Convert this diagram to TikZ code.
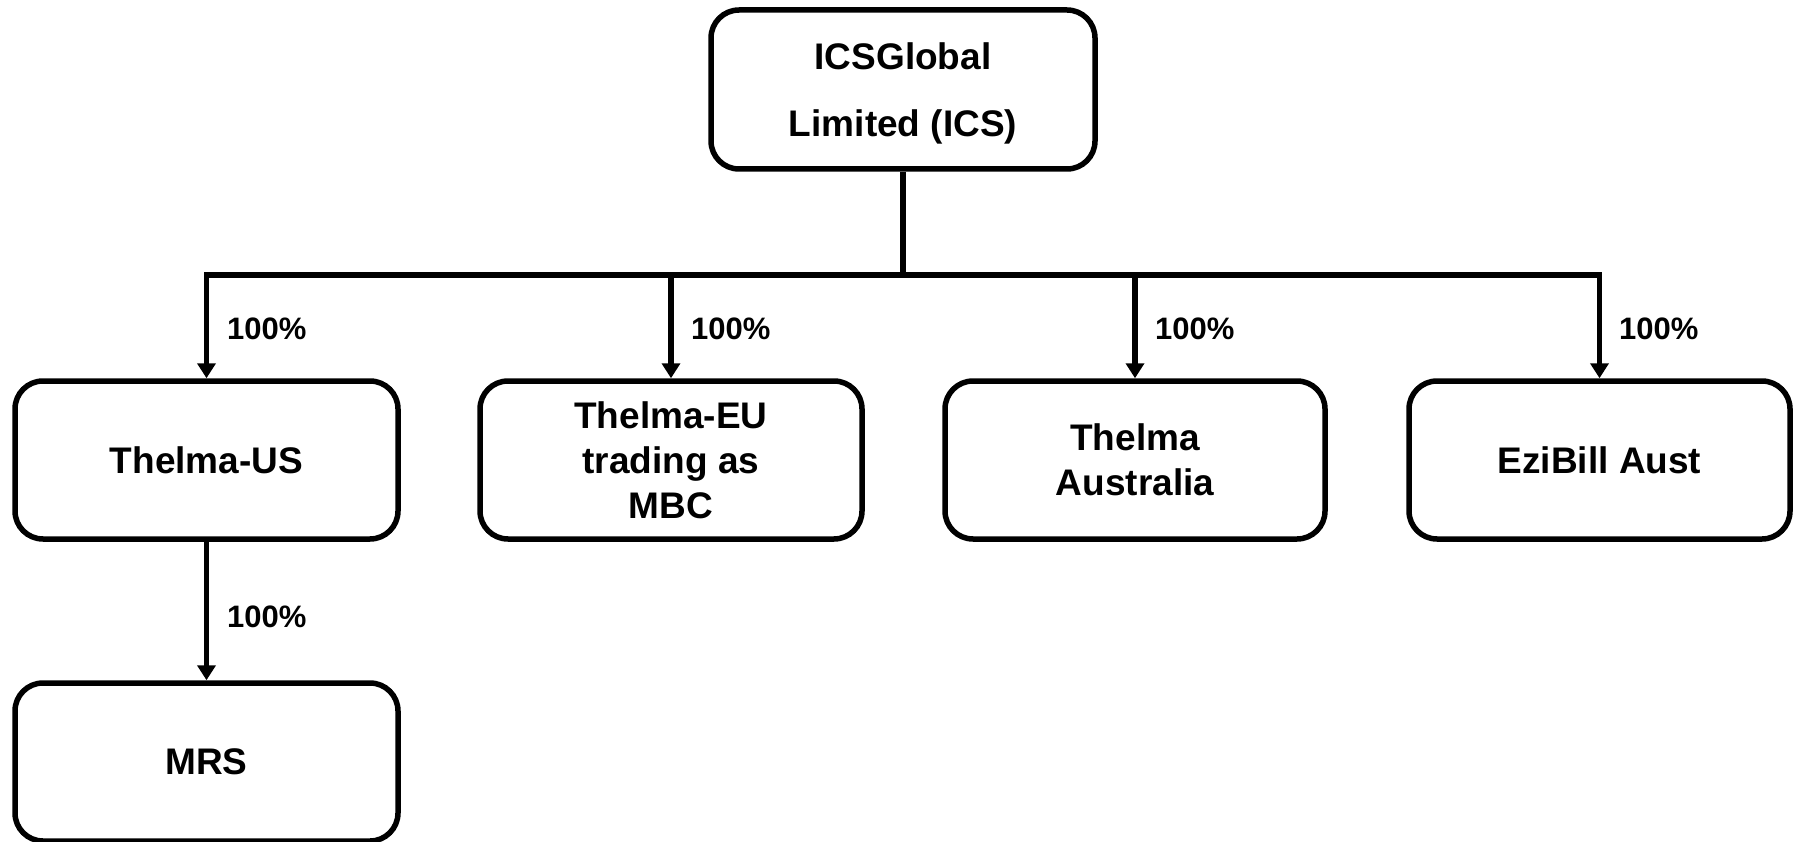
\documentclass[tikz,border=0pt]{standalone}
\usepackage{fontspec}
\setmainfont{Liberation Sans}
\usetikzlibrary{arrows.meta}
\begin{document}
\begin{tikzpicture}[x=1pt,y=-1pt,
  orgbox/.style={draw=black, line width=5.5pt, rounded corners=28pt, fill=white,
    minimum height=158pt, inner sep=2pt, align=center,
    font=\fontsize{37}{45}\selectfont\bfseries},
  conn/.style={draw=black, line width=5.5pt},
  arr/.style={conn, -{Triangle[width=18pt,length=15pt]}},
  pct/.style={anchor=base west, inner sep=0pt, font=\fontsize{31}{36}\selectfont\bfseries}
]
\useasboundingbox (0,0) rectangle (1796,842);
\node[orgbox, minimum width=384pt, minimum height=159pt,
  font=\fontsize{37}{67}\selectfont\bfseries] (top) at (903,89.5) {ICSGlobal\\Limited \smash{(ICS)}};
\node[orgbox, minimum width=383pt] (US) at (206.5,460) {Thelma-US};
\node[orgbox, minimum width=382pt] (EU) at (671,460) {Thelma-EU\\trading as\\MBC};
\node[orgbox, minimum width=380pt] (AU) at (1135,460) {Thelma\\Australia};
\node[orgbox, minimum width=381pt] (EZ) at (1599.5,460) {EziBill Aust};
\node[orgbox, minimum width=383pt] (MRS) at (206.5,762) {MRS};
\coordinate (bar) at (903,275);
\draw[conn] (top.south) -- (bar);
\draw[arr] (bar) -| (US.north);
\draw[arr] (bar) -| (EZ.north);
\draw[arr] (bar -| EU.north) -- (EU.north);
\draw[arr] (bar -| AU.north) -- (AU.north);
\draw[arr] (US.south) -- (MRS.north);
\node[pct] (lUS) at (227,339) {100\%};
\node[pct] (lEU) at (691,339) {100\%};
\node[pct] (lAU) at (1155,339) {100\%};
\node[pct] (lEZ) at (1619,339) {100\%};
\node[pct] (lMRS) at (227,627) {100\%};
\end{tikzpicture}
\end{document}
